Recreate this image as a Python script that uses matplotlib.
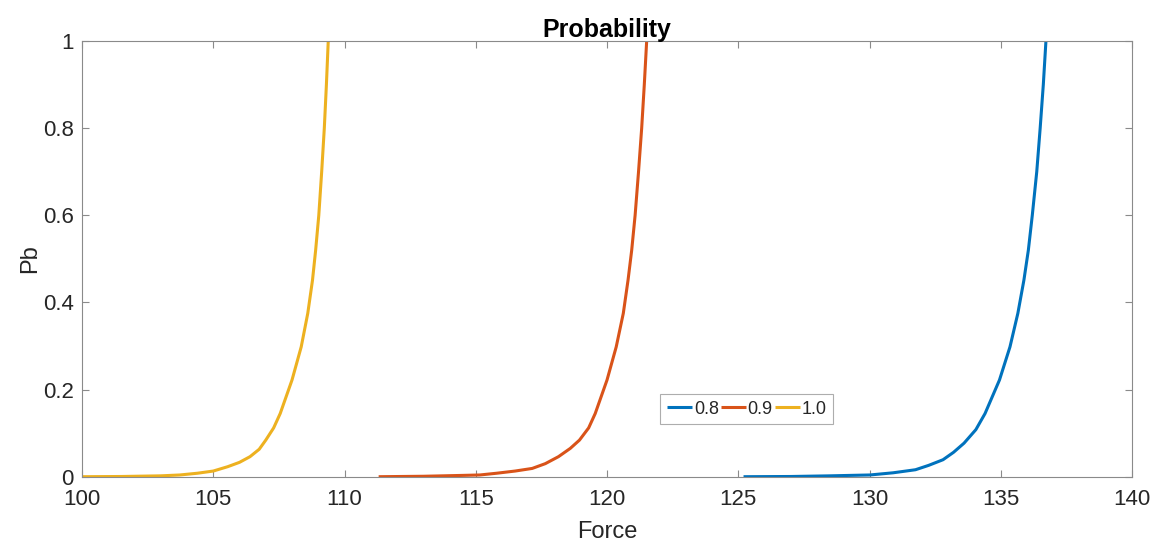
import matplotlib.pyplot as plt

# Pb vs Force for three coefficients
force_08 = [125.2, 127.0, 128.5, 130.02, 130.9, 131.75, 132.25, 132.8, 133.2, 133.6,
            134.05, 134.4, 134.95, 135.35, 135.65, 135.88, 136.05, 136.20, 136.37,
            136.50, 136.62, 136.72]
pb_08 = [0.0, 0.0005, 0.002, 0.004, 0.009, 0.016, 0.026, 0.039, 0.056, 0.077,
         0.108, 0.145, 0.222, 0.298, 0.375, 0.451, 0.52, 0.6, 0.7,
         0.8, 0.9, 1.0]

force_09 = [111.3, 113.0, 114.5, 115.16, 115.8, 116.5, 117.15, 117.65, 118.15, 118.6,
            118.95, 119.3, 119.55, 120.0, 120.35, 120.62, 120.80, 120.94, 121.07,
            121.20, 121.32, 121.42, 121.51]
pb_09 = [0.0, 0.001, 0.003, 0.004, 0.008, 0.013, 0.019, 0.030, 0.046, 0.065,
         0.084, 0.112, 0.145, 0.222, 0.298, 0.375, 0.451, 0.52, 0.6,
         0.7, 0.8, 0.9, 1.0]

force_10 = [100.0, 101.5, 103.0, 103.73, 104.4, 105.0, 105.55, 106.0, 106.4, 106.75,
            107.0, 107.3, 107.55, 108.0, 108.35, 108.60, 108.78, 108.90, 109.02,
            109.13, 109.23, 109.31, 109.38]
pb_10 = [0.0, 0.0005, 0.002, 0.004, 0.008, 0.013, 0.023, 0.033, 0.046, 0.063,
         0.084, 0.112, 0.145, 0.222, 0.298, 0.375, 0.451, 0.52, 0.6,
         0.7, 0.8, 0.9, 1.0]

labels = ['0.8', '0.9', '1.0']
colors = ['#0072BD', '#D95319', '#EDB120']

plt.rcParams['font.family'] = ['Liberation Sans', 'DejaVu Sans']
txt = '#262626'
axc = '#8a8a8a'

fig = plt.figure(figsize=(11.6, 5.44), dpi=100)
ax = fig.add_axes([0.0707, 0.1237, 0.9052, 0.8009])

for fx, pb, lab, c in zip([force_08, force_09, force_10], [pb_08, pb_09, pb_10], labels, colors):
    ax.plot(fx, pb, color=c, linewidth=2.2, label=lab, solid_capstyle='butt',
            solid_joinstyle='round')

ax.set_xlim(100, 140)
ax.set_ylim(0, 1)
ax.set_xticks([100, 105, 110, 115, 120, 125, 130, 135, 140])
ax.set_yticks([0, 0.2, 0.4, 0.6, 0.8, 1])
ax.set_yticklabels(['0', '0.2', '0.4', '0.6', '0.8', '1'])

ax.tick_params(direction='in', length=5, width=0.8, color=axc, labelcolor=txt,
               labelsize=16, top=True, right=True)
ax.tick_params(axis='x', pad=9)
ax.tick_params(axis='y', pad=6)
for s in ax.spines.values():
    s.set_color(axc)
    s.set_linewidth(0.8)

ax.set_xlabel('Force', fontsize=17, color=txt, labelpad=8)
ax.set_ylabel('Pb', fontsize=17, color=txt, labelpad=1)
ax.set_title('Probability', fontsize=18, fontweight='bold', color='black', pad=3)

leg = ax.legend(loc='center', bbox_to_anchor=(0.633, 0.155), ncol=3, fontsize=13,
                frameon=True, fancybox=False, handlelength=1.4, handletextpad=0.1,
                columnspacing=0.1, borderpad=0.35, borderaxespad=0)
leg.get_frame().set_edgecolor('#999999')
leg.get_frame().set_linewidth(0.8)
for t in leg.get_texts():
    t.set_color(txt)

fig.savefig('out.png', dpi=100)
